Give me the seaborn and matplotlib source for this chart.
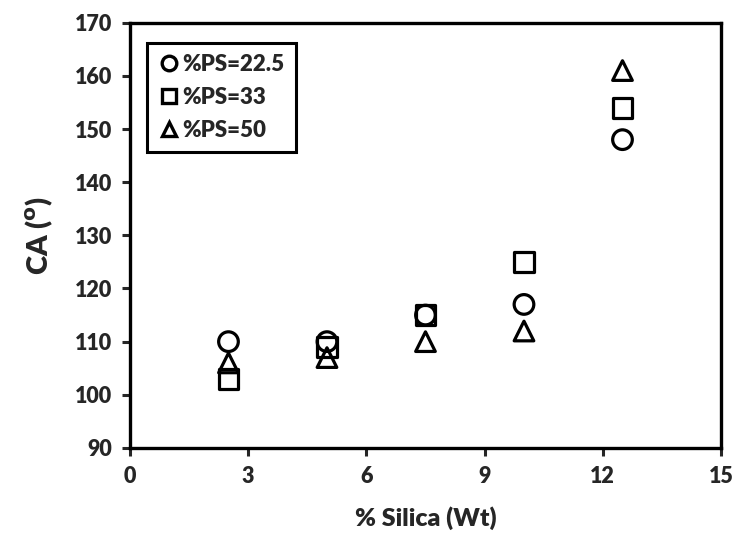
import matplotlib.pyplot as plt
import numpy as np
import pandas as pd
import seaborn as sns

# Data
silica = [2.5, 5, 7.5, 10, 12.5]
ca_ps225 = [110, 110, 115, 117, 148]
ca_ps33 = [103, 109, 115, 125, 154]
ca_ps50 = [106, 107, 110, 112, 161]
series_names = ["%PS=22.5", "%PS=33", "%PS=50"]

df = pd.DataFrame({
    "silica": silica * 3,
    "ca": ca_ps225 + ca_ps33 + ca_ps50,
    "series": np.repeat(series_names, len(silica)),
})

sns.set_style("white")
plt.rcParams["font.family"] = ["Lato", "DejaVu Sans"]
plt.rcParams["font.weight"] = "heavy"

fig = plt.figure(figsize=(7.36, 5.41), dpi=100)
ax = fig.add_axes([0.1766, 0.172, 0.803, 0.786])

markers = {"%PS=22.5": "o", "%PS=33": "s", "%PS=50": "^"}
sns.scatterplot(
    data=df,
    x="silica",
    y="ca",
    style="series",
    markers=markers,
    s=200,
    facecolor="none",
    edgecolor="black",
    linewidth=2.3,
    ax=ax,
)

ax.set_xlim(0, 15)
ax.set_ylim(90, 170)
ax.set_xticks(np.arange(0, 16, 3))
ax.set_yticks(np.arange(90, 171, 10))
ax.tick_params(axis="both", direction="out", length=6, width=2.2, labelsize=15.5,
               left=True, bottom=True, pad=7)
for lab in ax.get_xticklabels() + ax.get_yticklabels():
    lab.set_fontweight("heavy")
for sp in ax.spines.values():
    sp.set_linewidth(2.4)
    sp.set_color("black")

ax.set_xlabel("% Silica (Wt)", fontsize=18, fontweight="heavy", labelpad=14)
ax.set_ylabel("CA ($\\mathbf{^{o}}$)", fontsize=21, fontweight="heavy", labelpad=14)

leg = ax.legend(loc="upper left", bbox_to_anchor=(0.029, 0.953), frameon=True,
                fancybox=False, edgecolor="black", fontsize=16,
                handletextpad=0.1, borderpad=0.5, labelspacing=0.55,
                handlelength=1.0, borderaxespad=0)
leg.get_frame().set_linewidth(2.2)
leg.get_frame().set_alpha(1)
leg.get_frame().set_edgecolor("black")
for t in leg.get_texts():
    t.set_fontweight("heavy")
for h in leg.legend_handles:
    h.set_markerfacecolor("none")
    h.set_markeredgecolor("black")
    h.set_markeredgewidth(2.4)
    h.set_markersize(10.5)

fig.savefig("out.png", dpi=100)
